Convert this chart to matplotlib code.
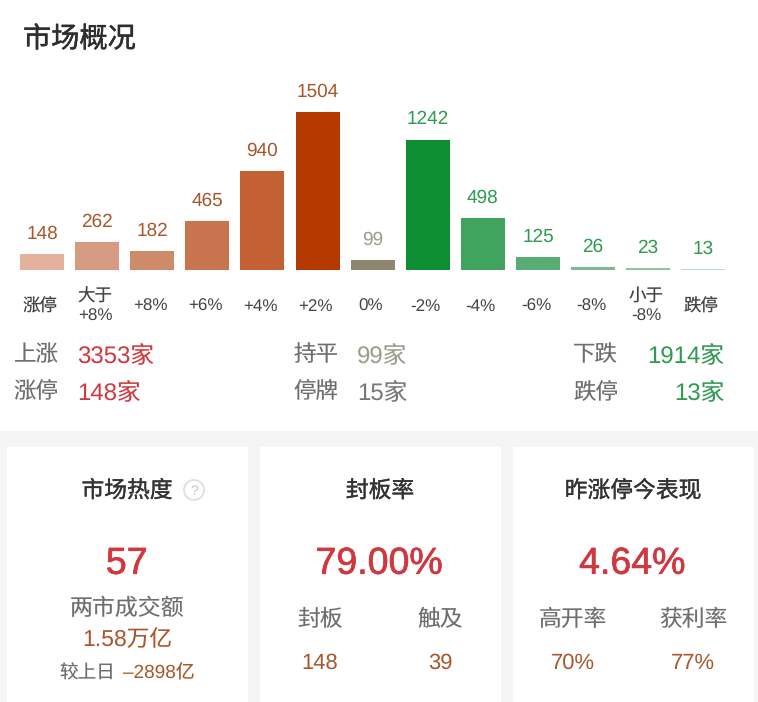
import matplotlib
matplotlib.use("Agg")
import matplotlib.pyplot as plt
import matplotlib.patheffects as pe
from matplotlib.patches import Rectangle, Circle
from matplotlib.transforms import ScaledTranslation

plt.rcParams['font.family'] = ['Liberation Sans', 'Noto Sans CJK SC', 'DejaVu Sans']
plt.rcParams['text.hinting'] = 'no_hinting'
plt.rcParams['text.hinting_factor'] = 1

categories = ['涨停', '大于\n+8%', '+8%', '+6%', '+4%', '+2%', '0%', '-2%', '-4%', '-6%', '-8%', '小于\n-8%', '跌停']
counts = [148, 262, 182, 465, 940, 1504, 99, 1242, 498, 125, 26, 23, 13]
bar_colors = ['#e4b29c', '#d69b80', '#cf8a69', '#c8744f', '#c36135', '#b53a00', '#8f8672',
              '#0e8e33', '#41a45e', '#5aac75', '#7db88f', '#8fc3a0', '#b9dbc4']
BROWN = '#a8562c'
GREY_V = '#9b9b8c'
GREEN = '#2f9a50'
value_colors = [BROWN] * 6 + [GREY_V] + [GREEN] * 6

RED = '#d0383f'
LABEL = '#6e6e6e'
DARK = '#333333'

summary = [
    (13, 353, '上涨', 77, '3353家', RED, 'left'),
    (13, 390, '涨停', 77, '148家', RED, 'left'),
    (293, 353, '持平', 357, '99家', GREY_V, 'left'),
    (293, 390, '停牌', 357, '15家', '#777777', 'left'),
    (573, 353, '下跌', 724, '1914家', GREEN, 'right'),
    (573, 390, '跌停', 724, '13家', GREEN, 'right'),
]
card_titles = ['市场热度', '封板率', '昨涨停今表现']
card_values = ['57', '79.00%', '4.64%']
sub_labels = [('封板', '148', '触及', '39'), ('高开率', '70%', '获利率', '77%')]

W, H = 758, 702
fig = plt.figure(figsize=(W / 100, H / 100), dpi=100, facecolor='white')

# page layer in pixel coordinates
bg = fig.add_axes([0, 0, 1, 1], zorder=0)
bg.set_xlim(0, W)
bg.set_ylim(H, 0)
bg.axis('off')
bg.add_patch(Rectangle((0, 431), W, H - 431, fc='#f5f5f5', ec='none'))
for x0 in (7, 260, 513):
    bg.add_patch(Rectangle((x0, 447), 241, H - 447, fc='white', ec='none'))

# bar chart
base_y, px_per_unit = 270, 158 / 1504
top_y = 70
ax = fig.add_axes([0, 1 - base_y / H, 1, (base_y - top_y) / H], zorder=1)
ax.patch.set_alpha(0)
pitch, first = 55.1, 42
xpos = list(range(len(counts)))
ax.bar(xpos, counts, width=44 / pitch, color=bar_colors, linewidth=0)
ax.set_xlim(-first / pitch, (W - first) / pitch)
ax.set_ylim(0, (base_y - top_y) / px_per_unit)
for s in ax.spines.values():
    s.set_visible(False)
ax.set_yticks([])
ax.set_xticks(xpos)
ax.set_xticklabels(categories, fontsize=12.6, color='#444444', va='center', linespacing=1.25)
ax.tick_params(axis='x', length=0, pad=26.5)
shift = ScaledTranslation(-2 / 100, 0, fig.dpi_scale_trans)
for lab in ax.get_xticklabels():
    lab.set_transform(lab.get_transform() + shift)
for i, v in enumerate(counts):
    ax.annotate(str(v), (i, v), xytext=(0, 14.5), textcoords='offset points', ha='center',
                va='center', fontsize=13.7, color=value_colors[i])


def t(x, y, s, size, color, ha='center', stroke=0.0):
    txt = bg.text(x, y, s, fontsize=size, color=color, ha=ha, va='center_baseline')
    if stroke:
        txt.set_path_effects([pe.withStroke(linewidth=stroke, foreground=color)])
    return txt


t(23, 37, '市场概况', 20.3, '#2e2e2e', 'left', 0.35)

for x1, y, lab, x2, val, col, ha in summary:
    t(x1, y, lab, 16.2, LABEL, 'left')
    t(x2, y, val, 17, col, ha)

centers = (127, 380, 633)
for cx, title, val in zip(centers, card_titles, card_values):
    t(cx, 489, title, 16.4, DARK, 'center', 0.25)
    t(cx, 560, val, 27, RED, 'center', 0.5)

# help icon
bg.add_patch(Circle((194, 490), 10, fc='white', ec='#dddddd', lw=1.2))
t(194, 490, '?', 10, '#c4c4c4')

t(127, 606, '两市成交额', 16.5, LABEL)
t(127, 637, '1.58万亿', 16.3, BROWN)
t(59, 672, '较上日', 13.4, LABEL, 'left')
t(195, 672, '–2898亿', 13.6, BROWN, 'right')

for (la, va, lb, vb), xa, xb in zip(sub_labels, (320, 573), (440, 693)):
    t(xa, 618, la, 16.4, LABEL)
    t(xa, 661, va, 16, BROWN)
    t(xb, 618, lb, 16.4, LABEL)
    t(xb, 661, vb, 16, BROWN)

fig.savefig('out.png', dpi=100)
